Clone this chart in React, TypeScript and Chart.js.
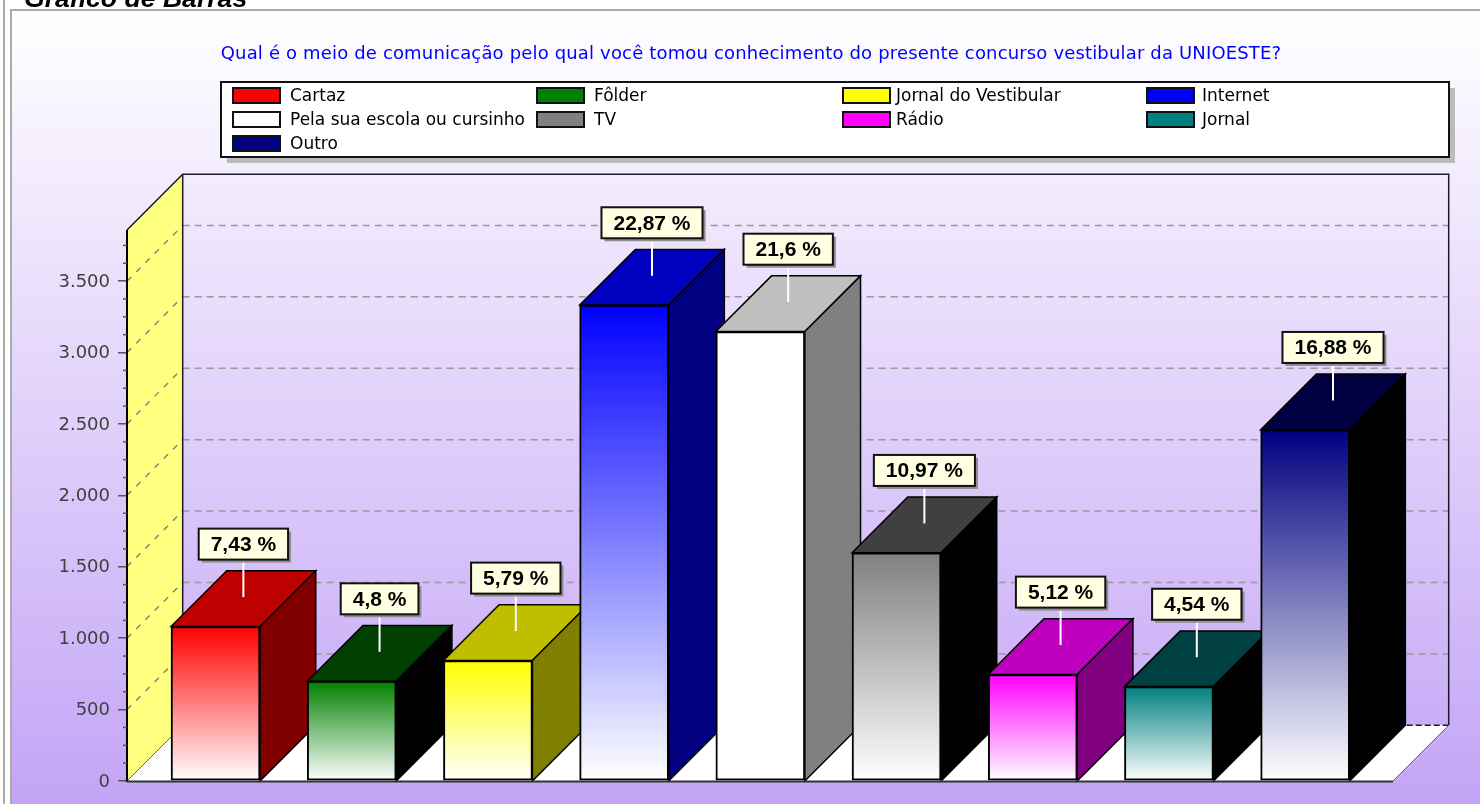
import React, { useEffect, useRef } from "react";
import { Chart, registerables } from "chart.js";

Chart.register(...registerables);

const categories = ["Cartaz", "Fôlder", "Jornal do Vestibular", "Internet", "Pela sua escola ou cursinho", "TV", "Rádio", "Jornal", "Outro"];
const values = [1082, 699, 844, 3332, 3147, 1598, 746, 661, 2459];
const percentLabels = ["7,43 %", "4,8 %", "5,79 %", "22,87 %", "21,6 %", "10,97 %", "5,12 %", "4,54 %", "16,88 %"];
const frontColors = ["#FF0000", "#008000", "#FFFF00", "#0000FF", "#FFFFFF", "#808080", "#FF00FF", "#008080", "#000080"];
const topColors = ["#BF0000", "#004000", "#BFBF00", "#0000BF", "#BFBFBF", "#404040", "#BF00BF", "#004040", "#000040"];
const sideColors = ["#800000", "#000000", "#808000", "#000080", "#808080", "#000000", "#800080", "#000000", "#000000"];
const yTickValues = [0, 500, 1000, 1500, 2000, 2500, 3000, 3500];
const chartTitle = "Qual é o meio de comunicação pelo qual você tomou conhecimento do presente concurso vestibular da UNIOESTE?";
const pageHeading = "Gráfico de Barras";

const DEPTH = 55.7;
const UI_FONT = '"DejaVu Sans"';

const depth3d: any = {
  id: "depth3d",
  beforeDraw(chart: any) {
    const { ctx, width, height } = chart;
    ctx.save();
    ctx.fillStyle = "#FFFFFF";
    ctx.fillRect(0, 0, width, height);
    ctx.fillStyle = "#ABABAB";
    ctx.fillRect(3, 0, 2, height);
    ctx.fillRect(10, 9, 2, height);
    ctx.fillRect(10, 9, width, 2);
    const g = ctx.createLinearGradient(0, 11, 0, height);
    g.addColorStop(0, "#FFFFFF");
    g.addColorStop(1, "#C3A4F6");
    ctx.fillStyle = g;
    ctx.fillRect(12, 11, width, height);
    ctx.fillStyle = "#000000";
    ctx.font = 'italic bold 26.6px "Liberation Sans"';
    ctx.textAlign = "left";
    ctx.textBaseline = "alphabetic";
    ctx.fillText(pageHeading, 24, 7);
    ctx.fillStyle = "#0000FF";
    ctx.font = `18px ${UI_FONT}`;
    (ctx as any).letterSpacing = "0.16px";
    ctx.textAlign = "center";
    ctx.textBaseline = "middle";
    ctx.fillText(chartTitle, 751, 54);
    (ctx as any).letterSpacing = "0px";

    const lx = 221, ly = 82, lw = 1228, lh = 75;
    ctx.fillStyle = "#BBBBBB";
    ctx.fillRect(lx + 6, ly + 6, lw, lh);
    ctx.fillStyle = "#FFFFFF";
    ctx.fillRect(lx, ly, lw, lh);
    ctx.strokeStyle = "#111111";
    ctx.lineWidth = 2;
    ctx.strokeRect(lx, ly, lw, lh);
    const columns = [233, 537, 843, 1147];
    const textX = [290, 594, 896, 1202];
    categories.forEach((name, i) => {
      const col = i % 4;
      const row = Math.floor(i / 4);
      const y = 88 + row * 24;
      ctx.fillStyle = frontColors[i];
      ctx.fillRect(columns[col], y, 47, 15);
      ctx.strokeStyle = "#111111";
      ctx.lineWidth = 2;
      ctx.strokeRect(columns[col], y, 47, 15);
      ctx.fillStyle = "#000000";
      ctx.font = `17px ${UI_FONT}`;
      ctx.textAlign = "left";
      ctx.textBaseline = "middle";
      ctx.fillText(name, textX[col], y + 8.5);
    });
    ctx.restore();
  },
  beforeDatasetsDraw(chart: any) {
    const { ctx, chartArea, scales } = chart;
    const { left, right, top, bottom } = chartArea;
    const y = scales.y;
    const d = DEPTH;
    ctx.save();
    // floor
    ctx.fillStyle = "#FFFFFF";
    ctx.beginPath();
    ctx.moveTo(left, bottom);
    ctx.lineTo(right, bottom);
    ctx.lineTo(right + d, bottom - d);
    ctx.lineTo(left + d, bottom - d);
    ctx.closePath();
    ctx.fill();
    // left wall
    ctx.fillStyle = "#FFFF80";
    ctx.beginPath();
    ctx.moveTo(left, bottom);
    ctx.lineTo(left + d, bottom - d);
    ctx.lineTo(left + d, top - d);
    ctx.lineTo(left, top);
    ctx.closePath();
    ctx.fill();
    // gridlines
    y.ticks.forEach((t: any) => {
      if (t.value === 0) return;
      const p = y.getPixelForValue(t.value);
      ctx.strokeStyle = "#808080";
      ctx.lineWidth = 1.4;
      ctx.setLineDash([6, 7]);
      ctx.beginPath();
      ctx.moveTo(left, p);
      ctx.lineTo(left + d, p - d);
      ctx.stroke();
      ctx.strokeStyle = "#999999";
      ctx.lineWidth = 1.5;
      ctx.setLineDash([7, 5]);
      ctx.beginPath();
      ctx.moveTo(left + d, p - d);
      ctx.lineTo(right + d, p - d);
      ctx.stroke();
    });
    ctx.setLineDash([]);
    // back wall frame
    ctx.strokeStyle = "#1A1A2A";
    ctx.lineWidth = 1.5;
    ctx.beginPath();
    ctx.moveTo(left, top);
    ctx.lineTo(left + d, top - d);
    ctx.lineTo(right + d, top - d);
    ctx.lineTo(right + d, bottom - d);
    ctx.moveTo(left + d, top - d);
    ctx.lineTo(left + d, bottom - d);
    ctx.stroke();
    ctx.setLineDash([6, 3]);
    ctx.beginPath();
    ctx.moveTo(left + d, bottom - d);
    ctx.lineTo(right + d, bottom - d);
    ctx.stroke();
    ctx.setLineDash([]);
    ctx.strokeStyle = "#666666";
    ctx.lineWidth = 1;
    ctx.beginPath();
    ctx.moveTo(left, bottom);
    ctx.lineTo(left + d, bottom - d);
    ctx.moveTo(right, bottom);
    ctx.lineTo(right + d, bottom - d);
    ctx.stroke();
    // bar tops and sides
    const meta = chart.getDatasetMeta(0);
    ctx.strokeStyle = "#000000";
    ctx.lineWidth = 1.5;
    meta.data.forEach((bar: any, i: number) => {
      const { x, y: yy, width } = bar.getProps(["x", "y", "width"], true);
      const l = x - width / 2, r = x + width / 2, base = y.getPixelForValue(0);
      ctx.fillStyle = topColors[i];
      ctx.beginPath();
      ctx.moveTo(l, yy);
      ctx.lineTo(l + d, yy - d);
      ctx.lineTo(r + d, yy - d);
      ctx.lineTo(r, yy);
      ctx.closePath();
      ctx.fill();
      ctx.stroke();
      ctx.fillStyle = sideColors[i];
      ctx.beginPath();
      ctx.moveTo(r, yy);
      ctx.lineTo(r + d, yy - d);
      ctx.lineTo(r + d, base - d);
      ctx.lineTo(r, base);
      ctx.closePath();
      ctx.fill();
      ctx.stroke();
    });
    ctx.restore();
  },
  afterDatasetsDraw(chart: any) {
    const { ctx, chartArea, scales } = chart;
    const { left, right, top, bottom } = chartArea;
    const d = DEPTH;
    ctx.save();
    // axis lines
    ctx.strokeStyle = "#000000";
    ctx.lineWidth = 2;
    ctx.beginPath();
    ctx.moveTo(left, top);
    ctx.lineTo(left, bottom + 1);
    ctx.stroke();
    ctx.strokeStyle = "#333333";
    ctx.beginPath();
    ctx.moveTo(left, bottom + 0.5);
    ctx.lineTo(right, bottom + 0.5);
    ctx.stroke();
    // minor ticks
    ctx.strokeStyle = "#555555";
    ctx.lineWidth = 1.5;
    for (let v = 125; v < scales.y.max; v += 125) {
      if (v % 500 === 0) continue;
      const p = scales.y.getPixelForValue(v);
      ctx.beginPath();
      ctx.moveTo(left - 4, p);
      ctx.lineTo(left, p);
      ctx.stroke();
    }
    // callouts
    const meta = chart.getDatasetMeta(0);
    meta.data.forEach((bar: any, i: number) => {
      const { x, y: yy } = bar.getProps(["x", "y"], true);
      const cx = x + d / 2;
      const cy = yy - d / 2;
      const text = percentLabels[i];
      ctx.font = 'bold 21px "Liberation Sans"';
      const w = ctx.measureText(text).width + 24;
      const h = 31;
      const boxBottom = cy - 39;
      const bx = cx - w / 2;
      ctx.fillStyle = "#FFFFFF";
      ctx.fillRect(cx - 1, boxBottom, 2, 37.5);
      ctx.fillStyle = "#8E8E8E";
      ctx.fillRect(bx + 3, boxBottom - h + 3, w, h);
      ctx.fillStyle = "#FFFFE1";
      ctx.fillRect(bx, boxBottom - h, w, h);
      ctx.strokeStyle = "#111111";
      ctx.lineWidth = 2;
      ctx.strokeRect(bx, boxBottom - h, w, h);
      ctx.fillStyle = "#000000";
      ctx.textAlign = "center";
      ctx.textBaseline = "middle";
      ctx.fillText(text, cx, boxBottom - h / 2 + 1);
    });
    ctx.restore();
  },
};

export default function App() {
  const ref = useRef<HTMLCanvasElement | null>(null);
  useEffect(() => {
    if (!ref.current) return;
    const chart = new Chart(ref.current, {
      type: "bar",
      data: {
        labels: categories,
        datasets: [
          {
            label: "Respostas",
            data: values.map((v, i) => ({ x: i, y: v })),
            barThickness: 89,
            borderWidth: 2,
            borderColor: "#000000",
            borderSkipped: false,
            backgroundColor: (c: any) => {
              const { chart: ch, dataIndex } = c;
              const yScale = ch.scales?.y;
              if (dataIndex === undefined || !yScale || !ch.chartArea) return frontColors[dataIndex ?? 0];
              const g = ch.ctx.createLinearGradient(0, yScale.getPixelForValue(values[dataIndex]), 0, yScale.getPixelForValue(0));
              g.addColorStop(0, frontColors[dataIndex]);
              g.addColorStop(1, "#FFFFFF");
              return g;
            },
          },
        ],
      },
      options: {
        animation: false,
        responsive: false,
        layout: { padding: { left: 0, right: 87, top: 230, bottom: 23 } },
        plugins: { legend: { display: false }, title: { display: false }, tooltip: { enabled: false } },
        scales: {
          x: { type: "linear", display: false, min: -0.65, max: 8.645, offset: false, grid: { display: false } },
          y: {
            min: 0,
            max: 3858,
            afterFit: (s: any) => {
              s.width = 127;
            },
            afterBuildTicks: (s: any) => {
              s.ticks = yTickValues.map((value) => ({ value }));
            },
            border: { display: false },
            grid: { drawOnChartArea: false, drawTicks: true, tickLength: 9, tickColor: "#555555", lineWidth: 1.5 },
            ticks: {
              autoSkip: false,
              padding: 8,
              labelOffset: 1,
              color: "#404040",
              font: { family: "DejaVu Sans", size: 18 },
              callback: (v: any) => String(v).replace(/\B(?=(\d{3})+$)/g, "."),
            },
          },
        },
      },
      plugins: [depth3d],
    } as any);
    return () => chart.destroy();
  }, []);
  return (
    <div style={{ position: "fixed", left: 0, top: 0, width: 1480, height: 804, overflow: "hidden" }}>
      <canvas ref={ref} width={1480} height={804} style={{ display: "block" }} />
    </div>
  );
}
